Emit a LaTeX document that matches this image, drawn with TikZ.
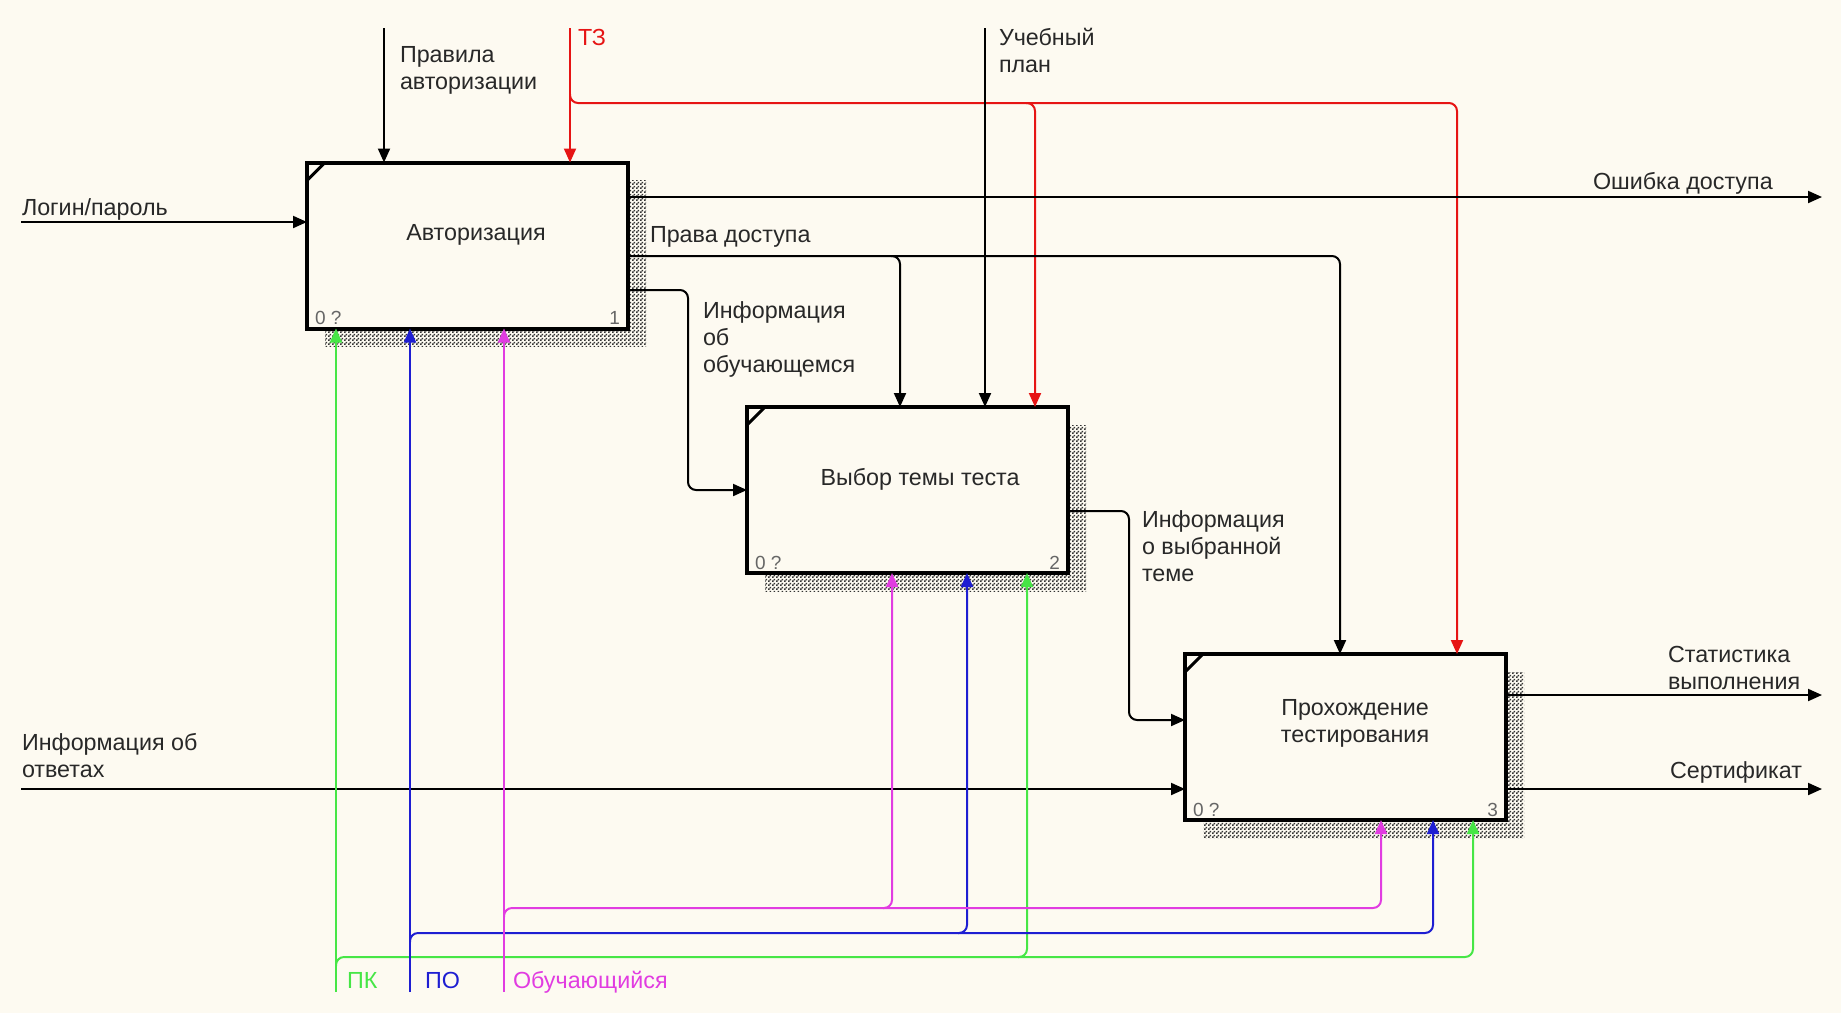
\documentclass[tikz,border=0pt]{standalone}
\usepackage{fontspec}
\setmainfont{Liberation Sans}
\usetikzlibrary{arrows.meta,patterns}
\pgfdeclarepatternformonly{idefhatch}{\pgfpointorigin}{\pgfpoint{4pt}{4pt}}{\pgfpoint{4pt}{4pt}}{%
 \pgfpathrectangle{\pgfpointorigin}{\pgfpoint{2pt}{2pt}}%
 \pgfpathrectangle{\pgfpoint{2pt}{2pt}}{\pgfpoint{2pt}{2pt}}%
 \pgfusepath{fill}}
\definecolor{bg}{RGB}{253,250,241}
\definecolor{txt}{RGB}{40,40,40}
\definecolor{idgreen}{RGB}{70,230,70}
\definecolor{idblue}{RGB}{30,30,210}
\definecolor{idmag}{RGB}{225,60,225}
\definecolor{idred}{RGB}{230,20,20}
\begin{document}
\begin{tikzpicture}[x=1pt,y=-1pt,
  every node/.style={font=\fontsize{23.3}{26.8}\selectfont, text=txt, inner sep=0pt, outer sep=0pt},
  box/.style={draw=black, line width=4pt, fill=bg, minimum width=321pt, minimum height=166pt},
  shadowbox/.style={pattern=idefhatch, pattern color=black!80},
  conn/.style={line width=2pt, rounded corners=8pt, -{Triangle[length=14pt,width=12pt]}},
  lbl/.style={align=left, anchor=base west},
  small/.style={font=\fontsize{19}{22}\selectfont, text=black!60},
  corner/.style={line width=3pt},
]
\fill[bg] (0,0) rectangle (1841,1013);
\useasboundingbox (0,0) rectangle (1841,1013);

% shadows
\fill[shadowbox] (467.5,245.5) ++(-142.5,-65) rectangle ++(321,166);
\fill[shadowbox] (907.5,490) ++(-142.5,-65) rectangle ++(321,166);
\fill[shadowbox] (1345.5,737) ++(-142.5,-65) rectangle ++(321,166);

% boxes
\node[box] (b1) at (467.5,245.5) {};
\node[box] (b2) at (907.5,490) {};
\node[box] (b3) at (1345.5,737) {};
\foreach \b in {b1,b2,b3}{
  \draw[corner] ([yshift=-18pt]\b.north west) -- ([xshift=18pt]\b.north west);
}
% (base of a multi-line node = baseline of its last line)
\node[anchor=base] (t1) at (476,240) {Авторизация};
\node[anchor=base] (t2) at (920,485) {Выбор темы теста};
\node[anchor=base, align=center] (t3) at (1355,742) {Прохождение\\тестирования};
\node[small, anchor=base west] (z1) at ([xshift=8pt,yshift=4pt]b1.south west) {0 ?};
\node[small, anchor=base west] (z2) at ([xshift=8pt,yshift=4pt]b2.south west) {0 ?};
\node[small, anchor=base west] (z3) at ([xshift=8pt,yshift=4pt]b3.south west) {0 ?};
\node[small, anchor=base east] (n1) at ([xshift=-8pt,yshift=4pt]b1.south east) {1};
\node[small, anchor=base east] (n2) at ([xshift=-8pt,yshift=4pt]b2.south east) {2};
\node[small, anchor=base east] (n3) at ([xshift=-8pt,yshift=4pt]b3.south east) {3};

% coordinates
\coordinate (pravTop) at (384,28);
\coordinate (tzTop) at (570,28);
\coordinate (upTop) at (985,28);
\coordinate (loginL) at (21,222);
\coordinate (errR) at (1822,197);
\coordinate (otvL) at (21,789);
\coordinate (statR) at (1822,695);
\coordinate (sertR) at (1822,789);
\coordinate (tzJ) at (570,103);
\coordinate (tzK) at (1457,103);
\coordinate (tzB) at (1035,103);
\coordinate (pdK) at (1340,256);
\coordinate (pdB) at (900,256);
\coordinate (ioK) at (688,290);
\coordinate (ioE) at (688,490);
\coordinate (itK) at (1129,511);
\coordinate (itE) at (1129,720);
\coordinate (pkB) at (336,992);
\coordinate (pkJ) at (336,957);
\coordinate (pkK) at (1473,957);
\coordinate (pkM) at (1027,957);
\coordinate (poB) at (410,992);
\coordinate (poJ) at (410,933);
\coordinate (poK) at (1433,933);
\coordinate (poM) at (967,933);
\coordinate (obB) at (504,992);
\coordinate (obJ) at (504,908);
\coordinate (obK) at (1381,908);
\coordinate (obM) at (892,908);

% controls
\draw[conn] (pravTop) -- (pravTop |- b1.north);
\draw[conn, idred] (tzTop) -- (tzTop |- b1.north);
\draw[conn, idred] ([yshift=9pt]tzJ) -- (tzJ) -- (tzK) -- (tzK |- b3.north);
\draw[conn, idred] ([xshift=-9pt]tzB) -- (tzB) -- (tzB |- b2.north);
\draw[conn] (upTop) -- (upTop |- b2.north);
\draw[conn] (b1.east |- pdK) -- (pdK) -- (pdK |- b3.north);
\draw[conn] ([xshift=-9pt]pdB) -- (pdB) -- (pdB |- b2.north);

% inputs / outputs
\draw[conn] (loginL) -- (loginL -| b1.west);
\draw[conn] (b1.east |- errR) -- (errR);
\draw[conn] (b1.east |- ioK) -- (ioK) -- (ioE) -- (ioE -| b2.west);
\draw[conn] (b2.east |- itK) -- (itK) -- (itE) -- (itE -| b3.west);
\draw[conn] (otvL) -- (otvL -| b3.west);
\draw[conn] (b3.east |- statR) -- (statR);
\draw[conn] (b3.east |- sertR) -- (sertR);

% mechanisms
\draw[conn, idgreen] (pkB) -- (pkB |- b1.south);
\draw[conn, idgreen] ([yshift=-9pt]pkJ) -- (pkJ) -- (pkK) -- (pkK |- b3.south);
\draw[conn, idgreen] ([xshift=-9pt]pkM) -- (pkM) -- (pkM |- b2.south);
\draw[conn, idblue] (poB) -- (poB |- b1.south);
\draw[conn, idblue] ([yshift=-9pt]poJ) -- (poJ) -- (poK) -- (poK |- b3.south);
\draw[conn, idblue] ([xshift=-9pt]poM) -- (poM) -- (poM |- b2.south);
\draw[conn, idmag] (obB) -- (obB |- b1.south);
\draw[conn, idmag] ([yshift=-9pt]obJ) -- (obJ) -- (obK) -- (obK |- b3.south);
\draw[conn, idmag] ([xshift=-9pt]obM) -- (obM) -- (obM |- b2.south);

% labels (anchor base = last line's baseline)
\node[lbl] (lPrav) at (400,89) {Правила\\авторизации};
\node[lbl, text=idred] (lTZ) at (578,45) {ТЗ};
\node[lbl] (lUP) at (999,72) {Учебный\\план};
\node[lbl] (lLog) at (22,215) {Логин/пароль};
\node[lbl] (lErr) at (1593,189) {Ошибка доступа};
\node[lbl] (lPD) at (650,242) {Права доступа};
\node[lbl] (lIO) at (703,372) {Информация\\об\\обучающемся};
\node[lbl] (lIT) at (1142,581) {Информация\\о выбранной\\теме};
\node[lbl] (lOtv) at (22,777) {Информация об\\ответах};
\node[lbl] (lStat) at (1668,689) {Статистика\\выполнения};
\node[lbl] (lSert) at (1670,778) {Сертификат};
\node[lbl, text=idgreen] (lPK) at (347,988) {ПК};
\node[lbl, text=idblue] (lPO) at (425,988) {ПО};
\node[lbl, text=idmag] (lOb) at (513,988) {Обучающийся};
\end{tikzpicture}
\end{document}
